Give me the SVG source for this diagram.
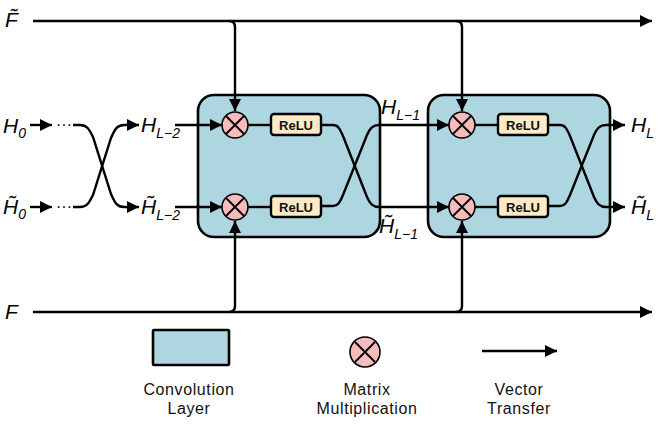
<svg xmlns="http://www.w3.org/2000/svg" width="659" height="426" viewBox="0 0 659 426">
<defs>
<marker id="arr" viewBox="0 0 10 10" refX="10" refY="5" markerWidth="5" markerHeight="5" markerUnits="strokeWidth" orient="auto">
<path d="M0,0 L10,5 L0,10 z" fill="#000"/>
</marker>
</defs>
<style>
.ln{fill:none;stroke:#000;stroke-width:2.4;stroke-linecap:butt}
.conv{fill:#aed6e0;stroke:#000;stroke-width:2.6}
.mul{fill:#f6bcbc;stroke:#000;stroke-width:1.6}
.x{stroke:#000;stroke-width:1.8;fill:none}
.relu{fill:#fdeac6;stroke:#000;stroke-width:2.4}
.rt{font-family:"Liberation Sans",Arial,sans-serif;font-weight:bold;font-size:13px;fill:#111;text-anchor:middle}
.m{font-family:"Liberation Sans",Arial,sans-serif;font-style:italic;font-size:21px;fill:#000}
.s{font-size:14px}
.lg{font-family:"Liberation Sans",Arial,sans-serif;font-size:16px;letter-spacing:0.6px;fill:#111;text-anchor:middle}
</style>

<g id="conv1"><rect class="conv" x="198" y="95" width="182" height="142" rx="16"/></g>
<g id="conv2"><rect class="conv" x="428" y="95" width="182" height="142" rx="16"/></g>

<g id="connectors">
<path class="ln" d="M33,21 H652" marker-end="url(#arr)"/>
<path class="ln" d="M33,312 H652" marker-end="url(#arr)"/>
<path class="ln" d="M229,21 Q235,21 235,27 V111" marker-end="url(#arr)"/>
<path class="ln" d="M456,21 Q462,21 462,27 V111" marker-end="url(#arr)"/>
<path class="ln" d="M229,312 Q235,312 235,306 V221" marker-end="url(#arr)"/>
<path class="ln" d="M456,312 Q462,312 462,306 V221" marker-end="url(#arr)"/>
<path class="ln" d="M30,125 H52" marker-end="url(#arr)"/>
<path class="ln" d="M30,207 H52" marker-end="url(#arr)"/>
<path class="ln" d="M73,125 H80 C87,125 89,129 93,137 L111,194 C115,203 117,207 124,207 H139" marker-end="url(#arr)"/>
<path class="ln" d="M73,207 H80 C87,207 89,203 93,195 L111,138 C115,129 117,125 124,125 H139" marker-end="url(#arr)"/>
<path class="ln" d="M175,125 H222" marker-end="url(#arr)"/>
<path class="ln" d="M175,207 H222" marker-end="url(#arr)"/>
<path class="ln" d="M248,125 H271"/>
<path class="ln" d="M248,207 H271"/>
<path class="ln" d="M475,125 H498"/>
<path class="ln" d="M475,207 H498"/>
<path class="ln" d="M321,125 H333 C338,125 340,129 343,136 L367,197 C370,204 373,207 379,207 H449" marker-end="url(#arr)"/>
<path class="ln" d="M321,206 H333 C338,206 340,202 343,195 L367,135 C370,128 373,125 379,125 H449" marker-end="url(#arr)"/>
<path class="ln" d="M548,125 H560 C565,125 567,129 570,136 L594,197 C597,204 600,207 606,207 H625" marker-end="url(#arr)"/>
<path class="ln" d="M548,206 H560 C565,206 567,202 570,195 L594,135 C597,128 600,125 606,125 H625" marker-end="url(#arr)"/>
<path class="ln" d="M482,351 H557" marker-end="url(#arr)"/>
</g>

<g id="mul1a"><circle class="mul" cx="235" cy="125" r="13"/><path class="x" d="M226,116 L244,134 M244,116 L226,134"/></g>
<g id="mul1b"><circle class="mul" cx="235" cy="207" r="13"/><path class="x" d="M226,198 L244,216 M244,198 L226,216"/></g>
<g id="mul2a"><circle class="mul" cx="462" cy="125" r="13"/><path class="x" d="M453,116 L471,134 M471,116 L453,134"/></g>
<g id="mul2b"><circle class="mul" cx="462" cy="207" r="13"/><path class="x" d="M453,198 L471,216 M471,198 L453,216"/></g>

<g id="relu1a"><rect class="relu" x="271" y="114" width="50" height="21" rx="3"/><text class="rt" x="296" y="129.5">ReLU</text></g>
<g id="relu1b"><rect class="relu" x="271" y="196" width="50" height="21" rx="3"/><text class="rt" x="296" y="211.5">ReLU</text></g>
<g id="relu2a"><rect class="relu" x="498" y="114" width="50" height="21" rx="3"/><text class="rt" x="523" y="129.5">ReLU</text></g>
<g id="relu2b"><rect class="relu" x="498" y="196" width="50" height="21" rx="3"/><text class="rt" x="523" y="211.5">ReLU</text></g>

<g id="labels">
<text class="m" x="5" y="27">F̃</text>
<text class="m" x="5" y="319">F</text>
<text class="m" x="3" y="133">H<tspan class="s" dy="5">0</tspan></text>
<text class="m" x="3" y="214">H̃<tspan class="s" dy="5">0</tspan></text>
<text class="m" x="56" y="130" style="font-style:normal;font-size:16px">···</text>
<text class="m" x="56" y="212" style="font-style:normal;font-size:16px">···</text>
<text class="m" x="141" y="132">H<tspan class="s" dy="6">L−2</tspan></text>
<text class="m" x="141" y="214">H̃<tspan class="s" dy="6">L−2</tspan></text>
<text class="m" x="381" y="114">H<tspan class="s" dy="6">L−1</tspan></text>
<text class="m" x="379" y="233">H̃<tspan class="s" dy="6">L−1</tspan></text>
<text class="m" x="631" y="132">H<tspan class="s" dy="6">L</tspan></text>
<text class="m" x="631" y="214">H̃<tspan class="s" dy="6">L</tspan></text>
</g>

<g id="legend">
<rect class="conv" x="153" y="330" width="76" height="35" rx="1"/>
<circle class="mul" cx="365" cy="352" r="15"/><path class="x" d="M355,342 L375,362 M375,342 L355,362"/>
<text class="lg" x="189" y="395">Convolution</text>
<text class="lg" x="189" y="414">Layer</text>
<text class="lg" x="367" y="395">Matrix</text>
<text class="lg" x="367" y="414">Multiplication</text>
<text class="lg" x="519" y="395">Vector</text>
<text class="lg" x="519" y="414">Transfer</text>
</g>
</svg>
